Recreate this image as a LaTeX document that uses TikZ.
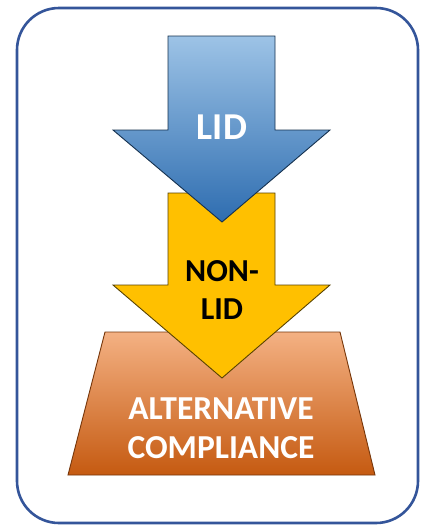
\documentclass[tikz,border=0pt]{standalone}
\usepackage{fontspec}
\setmainfont{Carlito}
\definecolor{frameblue}{HTML}{34559A}
\definecolor{bluetop}{HTML}{9DC3E6}
\definecolor{bluebot}{HTML}{2E6DB0}
\definecolor{yel}{HTML}{FFC000}
\definecolor{orgtop}{HTML}{F4B183}
\definecolor{orgbot}{HTML}{C55A11}
\definecolor{edge}{HTML}{2B2B2B}
\tikzset{
  shapeedge/.style={draw=edge, line width=0.9pt, line join=miter},
  lbl/.style={font=\bfseries, align=center, inner sep=0pt}
}
\begin{document}
\begin{tikzpicture}[x=1pt,y=-1pt]
\useasboundingbox (0,0) rectangle (425,531);
\fill[white] (0,0) rectangle (425,531);
% frame
\draw[frameblue, line width=2.6pt, rounded corners=42pt] (17,8) rectangle (418,523);
% orange trapezoid
\shade[top color=orgtop, bottom color=orgbot] (105,332) -- (340,332) -- (375,475) -- (68,475) -- cycle;
\draw[shapeedge, draw=orgbot!60!black] (105,332) -- (340,332) -- (375,475) -- (68,475) -- cycle;
% yellow arrow
\fill[yel] (168,193) -- (275,193) -- (275,285) -- (330,285) -- (222,378) -- (113,285) -- (168,285) -- cycle;
\draw[shapeedge, draw=yel!35!black] (168,193) -- (275,193) -- (275,285) -- (330,285) -- (222,378) -- (113,285) -- (168,285) -- cycle;
% blue arrow
\shade[top color=bluetop, bottom color=bluebot] (168,36) -- (275,36) -- (275,130) -- (330,130) -- (222,222) -- (113,130) -- (168,130) -- cycle;
\draw[shapeedge, draw=bluebot!45!black] (168,36) -- (275,36) -- (275,130) -- (330,130) -- (222,222) -- (113,130) -- (168,130) -- cycle;
% labels
\node[lbl, text=white, font=\bfseries\fontsize{38}{42}\selectfont] (lid) at (222,127) {LID};
\node[lbl, text=black, font=\bfseries\fontsize{32}{38}\selectfont] (nonlid) at (222,290) {NON-\\LID};
\node[lbl, text=white, font=\bfseries\fontsize{33.5}{39}\selectfont] (alt) at (221,428) {ALTERNATIVE\\COMPLIANCE};
\end{tikzpicture}
\end{document}
